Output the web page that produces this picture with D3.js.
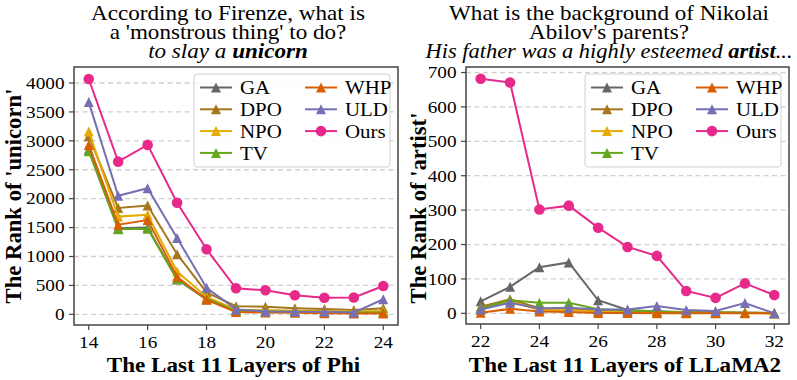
<!DOCTYPE html>
<meta charset="utf-8">
<style>
    body { margin: 0; background: #fff; }
    svg text { font-family: "Liberation Serif", "Times New Roman", Times, serif; fill: #000; }
</style>
<svg width="797" height="380"></svg>
<script src="https://d3js.org/d3.v7.min.js"></script>
<script>

    // method names, in plotting / legend order
    var methods = ["GA", "DPO", "NPO", "TV", "WHP", "ULD", "Ours"];

    // left panel: Phi, rank of 'unicorn'
    var phiLayers = [14, 15, 16, 17, 18, 19, 20, 21, 22, 23, 24];
    var phiGA   = [2850, 1490, 1500, 600, 260, 70, 60, 55, 50, 40, 50];
    var phiDPO  = [3080, 1840, 1880, 1040, 380, 140, 130, 105, 90, 75, 105];
    var phiNPO  = [3160, 1690, 1720, 740, 300, 80, 70, 60, 55, 45, 55];
    var phiTV   = [2820, 1470, 1480, 610, 270, 60, 50, 45, 40, 30, 30];
    var phiWHP  = [2930, 1550, 1630, 650, 250, 40, 30, 25, 20, 15, 15];
    var phiULD  = [3670, 2050, 2180, 1320, 460, 85, 50, 45, 45, 30, 260];
    var phiOurs = [4070, 2640, 2930, 1930, 1125, 450, 415, 330, 285, 290, 490];
    var phiXTicks = [14, 16, 18, 20, 22, 24];
    var phiYTicks = [0, 500, 1000, 1500, 2000, 2500, 3000, 3500, 4000];

    // right panel: LLaMA2, rank of 'artist'
    var llamaLayers = [22, 23, 24, 25, 26, 27, 28, 29, 30, 31, 32];
    var llamaGA   = [35, 77, 134, 148, 38, 10, 5, 3, 2, 2, 0];
    var llamaDPO  = [19, 41, 15, 13, 8, 6, 5, 4, 3, 2, 1];
    var llamaNPO  = [10, 35, 10, 10, 5, 3, 3, 2, 2, 1, 0];
    var llamaTV   = [15, 38, 31, 31, 12, 8, 5, 1, 3, 2, 0];
    var llamaWHP  = [2, 13, 5, 4, 1, 1, 0, 0, 0, 0, 0];
    var llamaULD  = [11, 31, 14, 16, 11, 11, 21, 10, 7, 30, 0];
    var llamaOurs = [682, 671, 302, 313, 249, 193, 167, 65, 45, 87, 53];
    var llamaXTicks = [22, 24, 26, 28, 30, 32];
    var llamaYTicks = [0, 100, 200, 300, 400, 500, 600, 700];

    var colors = ["#666666", "#a6761d", "#e6ab02", "#66a61e", "#d95f02", "#7570b3", "#e7298a"];

    var svg = d3.select("svg");
    var SX = 1.1; // the figure text is slightly wide

    // matplotlib style '^' marker
    var tri = {
        draw: function (ctx, size) {
            var r = Math.sqrt(size) / 2;
            ctx.moveTo(0, -r);
            ctx.lineTo(r, r);
            ctx.lineTo(-r, r);
            ctx.closePath();
        }
    };
    function marker(i) {
        return i === 6 ? d3.symbol().type(d3.symbolCircle).size(88)()
                       : d3.symbol().type(tri).size(100)();
    }

    function txt(g, x, y, s, size, anchor, weight) {
        return g.append("text")
            .attr("transform", "translate(" + x + "," + y + ") scale(" + SX + ",1)")
            .attr("text-anchor", anchor || "middle")
            .style("font-size", size + "px")
            .style("font-weight", weight || "normal")
            .text(s);
    }

    function drawPanel(p) {
        var g = svg.append("g");
        var x = d3.scaleLinear().domain(p.xDomain).range([p.left, p.right]);
        var y = d3.scaleLinear().domain(p.yDomain).range([p.bottom, p.top]);

        // grid
        g.selectAll(".grid").data(p.yTicks).enter().append("line")
            .attr("x1", p.left).attr("x2", p.right)
            .attr("y1", function (d) { return y(d); })
            .attr("y2", function (d) { return y(d); })
            .attr("stroke", "#cfcfcf").attr("stroke-width", 1.3)
            .attr("stroke-dasharray", "5,3.5");

        // lines and markers
        var line = d3.line()
            .x(function (d, j) { return x(p.layers[j]); })
            .y(function (d) { return y(d); });
        p.series.forEach(function (vals, i) {
            g.append("path")
                .attr("d", line(vals))
                .attr("fill", "none")
                .attr("stroke", colors[i])
                .attr("stroke-width", 2);
            g.selectAll(".m" + i).data(vals).enter().append("path")
                .attr("d", marker(i))
                .attr("transform", function (d, j) {
                    return "translate(" + x(p.layers[j]) + "," + y(d) + ")";
                })
                .attr("fill", colors[i]);
        });

        // frame
        g.append("rect")
            .attr("x", p.left).attr("y", p.top)
            .attr("width", p.right - p.left).attr("height", p.bottom - p.top)
            .attr("fill", "none").attr("stroke", "#444").attr("stroke-width", 1.5);

        // ticks
        p.xTicks.forEach(function (t) {
            g.append("line").attr("x1", x(t)).attr("x2", x(t))
                .attr("y1", p.bottom).attr("y2", p.bottom + 5)
                .attr("stroke", "#444").attr("stroke-width", 1.2);
            txt(g, x(t), p.bottom + 22.5, t, 17.5);
        });
        p.yTicks.forEach(function (t) {
            g.append("line").attr("x1", p.left - 5).attr("x2", p.left)
                .attr("y1", y(t)).attr("y2", y(t))
                .attr("stroke", "#444").attr("stroke-width", 1.2);
            txt(g, p.left - 9.5, y(t) + 5.8, t, 17.5, "end");
        });

        // axis labels
        txt(g, (p.left + p.right) / 2 - 2.5, 371.5, p.xLabel, 21, "middle", "bold");
        g.append("text")
            .attr("transform", "translate(" + p.yLabelX + ",303.5) rotate(-90)")
            .attr("text-anchor", "start")
            .style("font-size", "22.7px").style("font-weight", "bold")
            .text(p.yLabel);

        // title
        txt(g, p.titleX, 20, p.title[0], 21);
        txt(g, p.titleX, 38.5, p.title[1], 21);
        var t3 = txt(g, p.titleX, 57.5, "", p.title3Size).style("font-style", "italic");
        t3.append("tspan").text(p.title[2]);
        t3.append("tspan").style("font-weight", "bold").text(p.title[3]);
        t3.append("tspan").text(p.title[4]);

        // legend
        var lw = 196, lh = 93;
        var lx = p.right - 8 - lw, ly = p.top + 7;
        var lg = g.append("g");
        lg.append("rect")
            .attr("x", lx).attr("y", ly).attr("width", lw).attr("height", lh)
            .attr("rx", 3).attr("fill", "#fff").attr("fill-opacity", 0.85)
            .attr("stroke", "#d0d0d0").attr("stroke-width", 1);
        methods.forEach(function (m, i) {
            var col = i < 4 ? 0 : 1, row = i < 4 ? i : i - 4;
            var x0 = lx + 6 + col * 105, cy = ly + 13.5 + row * 21.8;
            lg.append("line").attr("x1", x0).attr("x2", x0 + 32)
                .attr("y1", cy).attr("y2", cy)
                .attr("stroke", colors[i]).attr("stroke-width", 2);
            lg.append("path").attr("d", marker(i))
                .attr("transform", "translate(" + (x0 + 16) + "," + cy + ")")
                .attr("fill", colors[i]);
            txt(lg, x0 + 40, cy + 6.8, m, 19, "start");
        });
    }

    drawPanel({
        left: 74, right: 398, top: 67, bottom: 325,
        layers: phiLayers,
        series: [phiGA, phiDPO, phiNPO, phiTV, phiWHP, phiULD, phiOurs],
        xDomain: [13.5, 24.5], yDomain: [-185, 4277],
        xTicks: phiXTicks, yTicks: phiYTicks,
        xLabel: "The Last 11 Layers of Phi",
        yLabel: "The Rank of 'unicorn'", yLabelX: 21,
        titleX: 228, title3Size: 21,
        title: ["According to Firenze, what is", "a 'monstrous thing' to do?",
                "to slay a ", "unicorn", ""]
    });

    drawPanel({
        left: 466, right: 789, top: 67, bottom: 324,
        layers: llamaLayers,
        series: [llamaGA, llamaDPO, llamaNPO, llamaTV, llamaWHP, llamaULD, llamaOurs],
        xDomain: [21.5, 32.5], yDomain: [-31, 716],
        xTicks: llamaXTicks, yTicks: llamaYTicks,
        xLabel: "The Last 11 Layers of LLaMA2",
        yLabel: "The Rank of 'artist'", yLabelX: 426,
        titleX: 609, title3Size: 20.4,
        title: ["What is the background of Nikolai", "Abilov's parents?",
                "His father was a highly esteemed ", "artist", "..."]
    });
</script>
